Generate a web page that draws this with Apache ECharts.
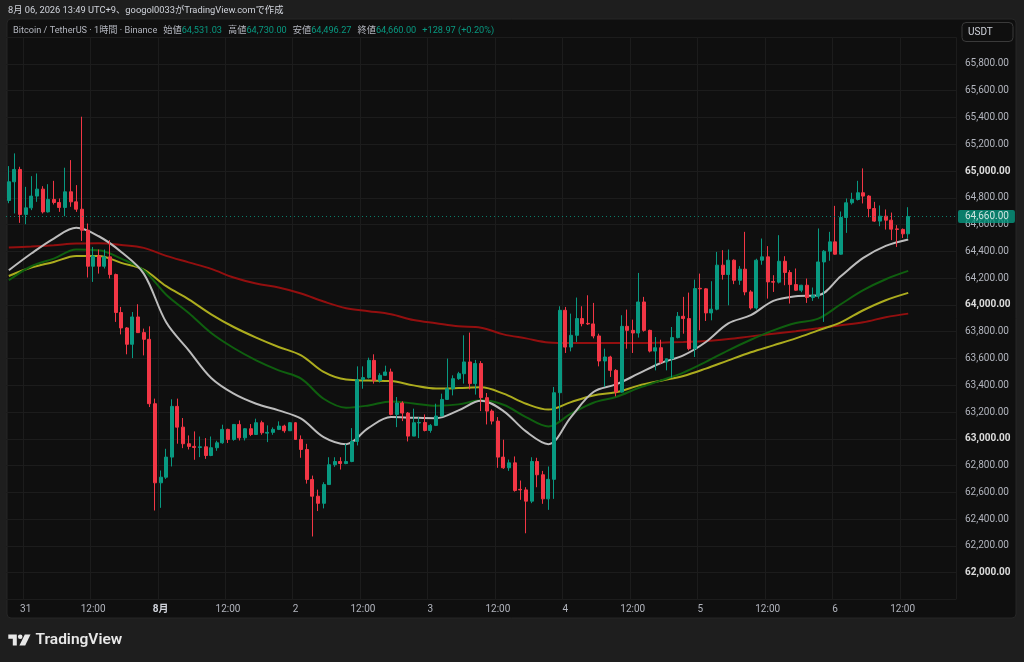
<!DOCTYPE html>
<html><head><meta charset="utf-8">
<script src="https://cdn.jsdelivr.net/npm/echarts@6/dist/echarts.min.js"></script>
<style>html,body{margin:0;padding:0;background:#1e1e1e;}#c{width:1024px;height:662px;}</style>
</head><body><div id="c"></div>
<script>
// ---- data (1h BTC/USDT candles, Jul 30 21:00 → Aug 6 13:00) ----
const opens = [64780,64920,65012,64676,64725,64813,64865,64695,64788,64765,64728,64845,64770,64715,64558,64289,64366,64289,64359,64227,63943,63828,63706,63910,63793,63743,63262,62671,62713,62863,63242,63087,62963,62943,62935,62940,62875,62933,62970,63070,62995,63107,63007,63075,63032,63120,63042,63048,63070,63095,63060,63120,62995,62920,62696,62571,62518,62658,62806,62830,62815,62830,62980,63442,63457,63586,63436,63474,63499,63182,63267,63192,63020,63118,63122,63062,63100,63170,63294,63374,63449,63486,63574,63412,63562,63307,63207,63132,62863,62783,62820,62622,62618,62534,62830,62731,62551,62697,63344,63960,63685,63773,63898,63862,63858,63768,63581,63611,63511,63349,63840,63810,63790,64022,63810,63655,63680,63573,63598,63756,63915,63898,63673,64124,64120,63940,63968,64297,64227,64334,64184,64267,64097,63977,64334,64359,64174,64170,64326,64242,64152,64110,64147,64055,64065,64321,64401,64471,64379,64653,64763,64788,64838,64813,64720,64626,64663,64633,64568,64564,64531.03];
const closes = [64920,65012,64676,64725,64813,64865,64695,64788,64765,64728,64845,64770,64715,64558,64289,64366,64289,64359,64227,63943,63828,63706,63910,63793,63743,63262,62671,62713,62863,63242,63087,62963,62943,62935,62940,62875,62933,62970,63070,62995,63107,63007,63075,63032,63120,63045,63048,63070,63095,63060,63120,62995,62920,62696,62571,62518,62658,62806,62830,62815,62830,62980,63442,63457,63586,63436,63474,63499,63182,63267,63192,63020,63120,63122,63062,63100,63170,63294,63374,63449,63486,63574,63412,63562,63307,63207,63132,62863,62783,62820,62614,62618,62534,62830,62731,62551,62697,63344,63960,63685,63773,63898,63860,63858,63768,63581,63611,63511,63349,63840,63810,63790,64022,63810,63655,63680,63573,63598,63756,63915,63898,63673,64122,64120,63940,63968,64297,64227,64334,64184,64267,64097,63977,64334,64359,64172,64170,64326,64242,64152,64110,64147,64055,64072,64321,64401,64471,64379,64653,64763,64788,64838,64813,64720,64626,64663,64633,64566,64564,64531.03,64660];
const lows = [64760,64683,64613,64603,64708,64770,64683,64690,64750,64695,64663,64733,64695,64478,64205,64172,64234,64272,64197,63873,63780,63631,63603,63790,63623,63237,62464,62484,62700,62793,62963,62930,62920,62843,62863,62850,62870,62910,62963,62968,62985,62987,62987,63020,63030,63030,62975,63030,63065,63045,63060,62995,62858,62665,62270,62460,62480,62655,62790,62770,62810,62825,62950,63374,63450,63412,63420,63470,63175,63087,63132,62980,63020,63005,63055,63045,63095,63170,63290,63324,63440,63412,63369,63330,63207,63107,63107,62783,62775,62760,62605,62544,62294,62519,62638,62514,62469,62551,63137,63641,63653,63723,63840,63850,63750,63541,63387,63462,63317,63345,63673,63641,63756,63800,63645,63511,63560,63511,63457,63750,63785,63661,63611,63810,63880,63885,63960,64189,63997,64155,64150,64072,63965,63965,64300,64047,64097,64160,64147,64010,64105,64095,64015,64030,64047,63873,64330,64375,64375,64538,64750,64780,64758,64655,64620,64588,64563,64484,64433,64500,64496.27];
const highs = [65037,65132,65032,64882,64962,64982,64887,64902,64927,64795,65025,65082,64895,65406,64608,64433,64414,64414,64484,64234,63985,63835,63947,64005,63823,63840,63300,62763,62925,63295,63300,63155,63025,63055,63017,63005,63017,62985,63105,63075,63110,63137,63080,63110,63150,63135,63100,63085,63130,63105,63125,63125,63025,62962,62725,62620,62675,62862,62862,62862,62962,63080,63541,63541,63606,63631,63490,63546,63524,63312,63280,63200,63225,63162,63182,63110,63262,63337,63599,63474,63500,63773,63793,63589,63580,63342,63220,63162,62993,62845,62868,62688,62638,62862,62858,62760,62793,63387,63990,63985,63935,64055,63990,64072,64015,63785,63673,63620,63520,63923,63965,63890,64239,64060,63815,63760,63740,63600,63835,63947,64060,64092,64189,64234,64125,64177,64396,64409,64414,64340,64290,64546,64110,64345,64496,64439,64222,64521,64364,64260,64272,64150,64197,64130,64571,64410,64546,64740,64698,64795,64838,64927,65020,64820,64770,64743,64713,64690,64596,64571,64730];

// moving averages read every 4th candle (candle 1, 5, 9, ... 161)
const maStep = 4;
const ema20  = [64259,64384,64496,64576,64513,64396,64234,63870,63661,63454,63337,63262,63212,63150,63012,62960,63082,63162,63157,63154,63212,63284,63207,63055,62960,63162,63349,63406,63486,63566,63623,63723,63862,63923,64030,64065,64072,64214,64351,64441,64489];
const ema50  = [64184,64289,64346,64414,64409,64346,64259,64076,63940,63790,63678,63586,63511,63449,63299,63232,63249,63279,63264,63247,63257,63287,63254,63162,63092,63187,63269,63312,63379,63436,63494,63574,63661,63740,63810,63865,63898,64005,64110,64192,64254];
const ema100 = [64216,64279,64321,64366,64366,64314,64264,64140,64042,63930,63835,63756,63686,63623,63499,63442,63435,63431,63399,63376,63379,63384,63337,63262,63218,63274,63324,63347,63397,63434,63469,63524,63586,63646,63698,63750,63810,63870,63960,64035,64090];
const ema200 = [64429,64436,64446,64459,64461,64448,64426,64366,64318,64269,64205,64160,64130,64085,64025,63975,63953,63930,63887,63863,63840,63830,63780,63750,63720,63715,63715,63715,63715,63718,63723,63730,63745,63765,63784,63803,63825,63848,63870,63908,63935];

// x-axis tick labels
const xTickIndex = [3,15,27,39,51,63,75,87,99,111,123,135,147,159];
const xTickText  = ['31','12:00','8月','12:00','2','12:00','3','12:00','4','12:00','5','12:00','6','12:00'];
const yMin = 61800, yMax = 66000, yStep = 200;
const slotCount = 169; // candles + right margin slots

// ---- build ----
const FONT = "Roboto, 'Noto Sans CJK JP', sans-serif";
const cats = [];
for (let i = 0; i < slotCount; i++) {
  const d = new Date(Date.UTC(2026, 6, 30, 21 + i));
  cats.push((d.getUTCMonth()+1) + '-' + d.getUTCDate() + ' ' + String(d.getUTCHours()).padStart(2,'0') + ':00');
}
const candles = opens.map((o, i) => [o, closes[i], lows[i], highs[i]]);
function expand(arr) {
  const out = new Array(opens.length).fill(null);
  arr.forEach((v, j) => { out[j * maStep] = v; });
  return out;
}
const fmt = v => v.toLocaleString('en-US', {minimumFractionDigits: 2, maximumFractionDigits: 2});
const n = opens.length - 1;
const lastO = opens[n], lastH = highs[n], lastL = lows[n], lastC = closes[n];
const chg = lastC - closes[n - 1];
const pct = chg / closes[n - 1] * 100;
const tickSet = new Set(xTickIndex);

const UP = '#089981', DOWN = '#f23645';
function maSeries(name, arr, color) {
  return {
    name, type: 'line', data: expand(arr), connectNulls: true, smooth: 0.35,
    showSymbol: false, symbol: 'none', silent: true, z: 3,
    lineStyle: {color, width: 2}
  };
}
const LS = 9.2;
const legendText = '{n|Bitcoin / TetherUS · 1時間 · Binance}{g|}{n|始値}{v|' + fmt(lastO) + '}{g|}{n|高値}{v|' + fmt(lastH) +
  '}{g|}{n|安値}{v|' + fmt(lastL) + '}{g|}{n|終値}{v|' + fmt(lastC) + '}{g|}{v|' + (chg >= 0 ? '+' : '') + chg.toFixed(2) +
  ' (' + (pct >= 0 ? '+' : '') + pct.toFixed(2) + '%)}';

const chart = echarts.init(document.getElementById('c'), null, {renderer: 'canvas'});
chart.setOption({
  backgroundColor: '#1e1e1e',
  animation: false,
  textStyle: {fontFamily: FONT},
  grid: {left: 6, right: 68, top: 37.2, bottom: 62.6, containLabel: false},
  xAxis: {
    type: 'category', data: cats, boundaryGap: true,
    axisLine: {show: false}, axisTick: {show: false},
    axisLabel: {
      interval: (idx) => tickSet.has(idx), margin: 5,
      color: '#b2b5be', fontSize: 10, fontFamily: FONT,
      formatter: (val, idx) => {
        const k = xTickIndex.indexOf(idx);
        if (k < 0) return '';
        const t = xTickText[k];
        return t === '8月' ? '{b|' + t + '}' : t;
      },
      rich: {b: {fontWeight: 'bold', color: '#d1d4dc', fontSize: 10, fontFamily: FONT}}
    },
    splitLine: {show: true, interval: (idx) => tickSet.has(idx), lineStyle: {color: '#1c1c1c', width: 1}}
  },
  yAxis: {
    type: 'value', position: 'right', min: yMin, max: yMax, interval: yStep, scale: true,
    axisLine: {show: false}, axisTick: {show: false},
    axisLabel: {
      margin: 9, color: '#b2b5be', fontSize: 10, fontFamily: FONT,
      formatter: v => {
        if (v <= yMin || v >= yMax) return '';
        return v % 1000 === 0 ? '{b|' + fmt(v) + '}' : fmt(v);
      },
      rich: {b: {fontWeight: 'bold', color: '#dcdcdc', fontSize: 10, fontFamily: FONT}}
    },
    splitLine: {show: true, lineStyle: {color: '#1c1c1c', width: 1}}
  },
  series: [
    maSeries('EMA200', ema200, '#930f0f'),
    maSeries('EMA100', ema100, '#acac1e'),
    maSeries('EMA50', ema50, '#0f5f0f'),
    maSeries('EMA20', ema20, '#bcbcbc'),
    {
      name: 'BTCUSDT', type: 'candlestick', data: candles, z: 5,
      barWidth: '62%',
      itemStyle: {color: UP, color0: DOWN, borderColor: UP, borderColor0: DOWN, borderWidth: 1},
      markLine: {
        silent: true, symbol: 'none', z: 10,
        data: [{yAxis: lastC}],
        lineStyle: {color: UP, type: [1, 3], width: 1, opacity: 0.8},
        label: {
          show: true, position: 'end', distance: 2,
          formatter: () => fmt(lastC),
          backgroundColor: UP, color: '#ffffff', padding: [2, 6, 1, 7],
          fontSize: 10, fontFamily: FONT, borderRadius: 2
        }
      }
    }
  ],
  graphic: [
    {type: 'rect', z: -10, shape: {x: 7, y: 19, width: 1009, height: 599, r: 4},
      style: {fill: '#0f0f0f', stroke: '#262626', lineWidth: 1}},
    {type: 'text', x: 8, y: 11, z: 10, style: {
      text: '8月 06, 2026 13:49 UTC+9、googol0033がTradingView.comで作成',
      fill: '#d1d4dc', fontSize: 9.3, fontFamily: FONT, verticalAlign: 'middle'}},
    {type: 'text', x: 13, y: 31, z: 10, style: {
      text: legendText, verticalAlign: 'middle', fontSize: LS, fontFamily: FONT,
      rich: {
        n: {fill: '#b2b5be', fontSize: LS, fontFamily: FONT},
        v: {fill: UP, fontSize: LS, fontFamily: FONT},
        g: {width: 6, fontSize: LS}
      }}},
    {type: 'rect', z: 10, shape: {x: 962, y: 22.5, width: 51, height: 19, r: 4},
      style: {fill: '#0f0f0f', stroke: '#3a3a3a', lineWidth: 1}},
    {type: 'text', x: 968, y: 32, z: 11, style: {text: 'USDT', fill: '#d1d4dc', fontSize: 10, fontFamily: FONT, verticalAlign: 'middle'}},
    // TradingView logo
    {type: 'group', x: 0, y: 0, z: 10, children: [
      {type: 'polygon', shape: {points: [[8.3,634.5],[16.8,634.5],[16.8,645.5],[12.8,645.5],[12.8,638.8],[8.3,638.8]]}, style: {fill: '#e8e8e8'}},
      {type: 'circle', shape: {cx: 20.2, cy: 636.8, r: 2.3}, style: {fill: '#e8e8e8'}},
      {type: 'polygon', shape: {points: [[24.8,634.5],[30.5,634.5],[25.2,645.5],[19.4,645.5]]}, style: {fill: '#e8e8e8'}},
      {type: 'text', x: 35.5, y: 640.5, style: {text: 'TradingView', fill: '#e8e8e8', fontSize: 15.5, fontWeight: 600, fontFamily: FONT, verticalAlign: 'middle'}}
    ]}
  ]
});
</script>
</body></html>
